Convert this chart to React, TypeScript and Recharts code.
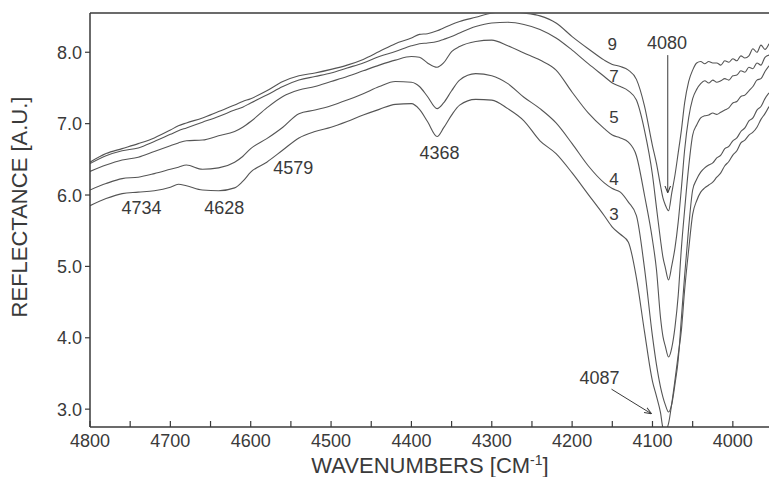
import React from 'react';
import {
  LineChart,
  Line,
  XAxis,
  YAxis,
  ReferenceLine,
  ReferenceDot,
} from 'recharts';

// wavenumbers (cm-1), high to low as on the plot
const WAVENUMBERS = [
  4800, 4780, 4760, 4740, 4720, 4700, 4690, 4680, 4660, 4640, 4620, 4610, 4600, 4580, 4560, 4540,
  4520, 4500, 4480, 4460, 4440, 4420, 4400,
  4390, 4380, 4368, 4360, 4350, 4340,
  4320, 4300, 4280, 4260, 4240, 4220, 4200, 4180, 4160,
  4150, 4140, 4130, 4120, 4110, 4100,
  4095, 4090, 4087, 4084, 4080, 4076, 4072, 4068, 4064, 4060, 4055, 4050,
  4045, 4040, 4035, 4030, 4025, 4020, 4015, 4010, 4005, 4000, 3995, 3990, 3985, 3980, 3975, 3970, 3965, 3960, 3955,
];

const CURVE_9 = [
  6.46, 6.58, 6.65, 6.72, 6.8, 6.91, 6.97, 7.01, 7.08, 7.17, 7.26, 7.31, 7.35, 7.46, 7.59, 7.67,
  7.71, 7.76, 7.82, 7.9, 8.01, 8.12, 8.2,
  8.25, 8.26, 8.3, 8.34, 8.39, 8.43,
  8.49, 8.55, 8.57, 8.55, 8.51, 8.41, 8.22, 8.05, 7.89,
  7.83, 7.8, 7.75, 7.62, 7.25, 6.69,
  6.44, 6.13, 5.96, 5.86, 5.78, 6.03, 6.28, 6.59, 6.91, 7.29, 7.59, 7.75,
  7.85, 7.87, 7.84, 7.87, 7.85, 7.85, 7.82, 7.88, 7.86, 7.91, 7.88, 7.95, 7.92, 7.95, 8.05, 8.0, 8.1, 8.04, 8.12,
];

const CURVE_7 = [
  6.44, 6.55, 6.62, 6.66, 6.75, 6.85, 6.9, 6.94, 7.02, 7.1, 7.19, 7.23, 7.29, 7.4, 7.52, 7.61,
  7.66, 7.71, 7.78, 7.85, 7.94, 8.01, 8.09,
  8.12, 8.13, 8.15, 8.18, 8.22, 8.27,
  8.36, 8.41, 8.42, 8.39, 8.32, 8.2, 8.03, 7.84, 7.66,
  7.57, 7.52, 7.46, 7.33, 6.91, 6.28,
  5.82, 5.37, 5.13, 4.98, 4.81, 5.01, 5.26, 5.62, 6.1, 6.63, 7.08, 7.35,
  7.48, 7.56, 7.6, 7.57, 7.61, 7.58, 7.6, 7.63, 7.61, 7.67, 7.68, 7.74, 7.72, 7.79, 7.77, 7.85, 7.82, 7.93, 7.96,
];

const CURVE_5 = [
  6.33, 6.42, 6.49, 6.53, 6.61, 6.69, 6.73, 6.76, 6.77, 6.83, 6.89, 6.95, 7.03, 7.22, 7.38, 7.47,
  7.52, 7.59, 7.66, 7.74, 7.82, 7.89, 7.94,
  7.93, 7.85, 7.79, 7.85, 8.01, 8.08,
  8.15, 8.17, 8.09, 7.99, 7.89, 7.75, 7.44, 7.15, 6.93,
  6.84, 6.8, 6.74, 6.55, 6.0, 5.37,
  4.95, 4.28, 4.02, 3.88, 3.73, 3.86, 4.15, 4.59, 5.26, 5.79, 6.39, 6.84,
  6.98, 7.08, 7.11, 7.12, 7.15, 7.13, 7.16, 7.19, 7.22, 7.29, 7.31, 7.38, 7.4, 7.46, 7.52, 7.61, 7.63, 7.73, 7.81,
];

const CURVE_4 = [
  6.07, 6.16, 6.23, 6.25, 6.3, 6.36, 6.39, 6.42, 6.36, 6.38, 6.46, 6.54, 6.65, 6.79, 6.95, 7.14,
  7.19, 7.25, 7.33, 7.42, 7.52, 7.59, 7.58,
  7.52, 7.38, 7.21, 7.29, 7.46, 7.61,
  7.7, 7.67, 7.56, 7.37, 7.21, 7.01, 6.72, 6.41, 6.17,
  6.09, 6.04, 5.9, 5.71, 4.98, 4.02,
  3.62, 3.31, 3.17, 3.06, 2.96, 3.07, 3.35, 3.69, 4.28, 4.87, 5.54, 6.07,
  6.22, 6.32, 6.38, 6.42, 6.45, 6.52, 6.56, 6.65, 6.68, 6.76, 6.8, 6.89, 6.94, 7.04, 7.08, 7.19, 7.24, 7.35, 7.43,
];

const CURVE_3 = [
  5.85, 5.95, 6.02, 6.04, 6.06, 6.11, 6.15, 6.13, 6.07, 6.06, 6.1, 6.19, 6.32, 6.46, 6.63, 6.8,
  6.89, 6.95, 7.03, 7.12, 7.2, 7.27, 7.28,
  7.2, 7.03, 6.82, 6.94, 7.12, 7.26,
  7.34, 7.33, 7.21, 7.04, 6.76, 6.58, 6.31, 6.01, 5.71,
  5.55, 5.45, 5.34, 4.84, 4.09, 3.39,
  3.18, 2.95, 2.74, 2.7, 2.8, 3.08, 3.41, 3.76, 4.11, 4.67, 5.23, 5.73,
  5.92, 6.04, 6.1, 6.14, 6.18, 6.25, 6.31, 6.41, 6.47, 6.56, 6.62, 6.73, 6.77, 6.84, 6.88, 6.95, 7.06, 7.14, 7.24,
];

const X_TICKS = [4800, 4750, 4700, 4650, 4600, 4550, 4500, 4450, 4400, 4350, 4300, 4250, 4200, 4150, 4100, 4050, 4000];
const Y_TICKS = [3, 4, 5, 6, 7, 8];

// text notes on the plot: [text, wavenumber, reflectance, font size]
const NOTES: [string, number, number, number][] = [
  ['4734', 4736, 5.82, 18],
  ['4628', 4633, 5.82, 18],
  ['4579', 4547, 6.39, 18],
  ['4368', 4365, 6.59, 18],
  ['4080', 4082, 8.13, 18],
  ['4087', 4166, 3.44, 18],
  ['9', 4150, 8.12, 17],
  ['7', 4148, 7.67, 17],
  ['5', 4148, 7.09, 17],
  ['4', 4148, 6.23, 17],
  ['3', 4148, 5.73, 17],
];

const data = WAVENUMBERS.map((wn, i) => ({
  wn,
  c3: CURVE_3[i],
  c4: CURVE_4[i],
  c5: CURVE_5[i],
  c7: CURVE_7[i],
  c9: CURVE_9[i],
}));

const FONT = '"Liberation Sans", Arial, Helvetica, sans-serif';
const INK = '#3a3a3a';
const LINE = '#555';

function XTick({ x, y, payload }: any) {
  const major = payload.value % 100 === 0;
  return (
    <g>
      <line x1={x} x2={x} y1={y} y2={y - 6} stroke={INK} strokeWidth={1.2} />
      {major && (
        <text x={x} y={y + 20} textAnchor="middle" fontSize={18} fill={INK} fontFamily={FONT}>
          {payload.value}
        </text>
      )}
    </g>
  );
}

function YTick({ x, y, payload }: any) {
  return (
    <g>
      <line x1={x - 5} x2={x} y1={y} y2={y} stroke={INK} strokeWidth={1.2} />
      <text x={x - 8} y={y + 6.5} textAnchor="end" fontSize={18} fill={INK} fontFamily={FONT}>
        {payload.value.toFixed(1)}
      </text>
    </g>
  );
}

export default function App() {
  return (
    <div style={{ position: 'absolute', left: 0, top: 0, background: 'white' }}>
      <LineChart width={769} height={477} data={data} margin={{ top: 13, right: 0, bottom: 0, left: 0 }}>
        <defs>
          <marker id="arrowHead" viewBox="0 0 10 10" refX="9" refY="5" markerWidth="7" markerHeight="7" orient="auto">
            <path d="M0,1 L10,5 L0,9" fill="none" stroke={INK} strokeWidth={1.5} />
          </marker>
        </defs>
        <XAxis
          dataKey="wn"
          type="number"
          domain={[3955, 4800]}
          reversed
          allowDataOverflow
          ticks={X_TICKS}
          interval={0}
          height={50}
          tickSize={0}
          tickMargin={0}
          tickLine={false}
          tick={<XTick />}
          axisLine={{ stroke: INK, strokeWidth: 1.5 }}
        />
        <YAxis
          type="number"
          domain={[2.75, 8.55]}
          allowDataOverflow
          ticks={Y_TICKS}
          interval={0}
          width={90}
          tickSize={0}
          tickMargin={0}
          tickLine={false}
          tick={<YTick />}
          axisLine={{ stroke: INK, strokeWidth: 1.5 }}
        />
        <ReferenceLine y={8.55} stroke={INK} strokeWidth={1.5} />
        {(['c3', 'c4', 'c5', 'c7', 'c9'] as const).map((k) => (
          <Line
            key={k}
            dataKey={k}
            type="monotone"
            stroke={LINE}
            strokeWidth={1.1}
            dot={false}
            isAnimationActive={false}
          />
        ))}
        <ReferenceLine
          segment={[{ x: 4081, y: 7.96 }, { x: 4081, y: 6.04 }]}
          stroke={INK}
          strokeWidth={1}
          markerEnd="url(#arrowHead)"
        />
        <ReferenceLine
          segment={[{ x: 4151, y: 3.28 }, { x: 4102, y: 2.94 }]}
          stroke={INK}
          strokeWidth={1}
          markerEnd="url(#arrowHead)"
        />
        {NOTES.map(([t, wn, v, fs]) => (
          <ReferenceDot
            key={t}
            x={wn}
            y={v}
            r={0}
            shape={(p: any) => (
              <text
                x={p.cx}
                y={p.cy}
                dy="0.36em"
                textAnchor="middle"
                fontSize={fs}
                fill={INK}
                fontFamily={FONT}
              >
                {t}
              </text>
            )}
          />
        ))}
        <text
          x={27}
          y={207}
          transform="rotate(-90, 27, 207)"
          textAnchor="middle"
          fontSize={22}
          fill={INK}
          fontFamily={FONT}
        >
          REFLECTANCE [A.U.]
        </text>
        <text x={430} y={473} textAnchor="middle" fontSize={22} fill={INK} fontFamily={FONT}>
          WAVENUMBERS [CM
          <tspan dy={-8} fontSize={14}>-1</tspan>
          <tspan dy={8}>]</tspan>
        </text>
      </LineChart>
    </div>
  );
}
